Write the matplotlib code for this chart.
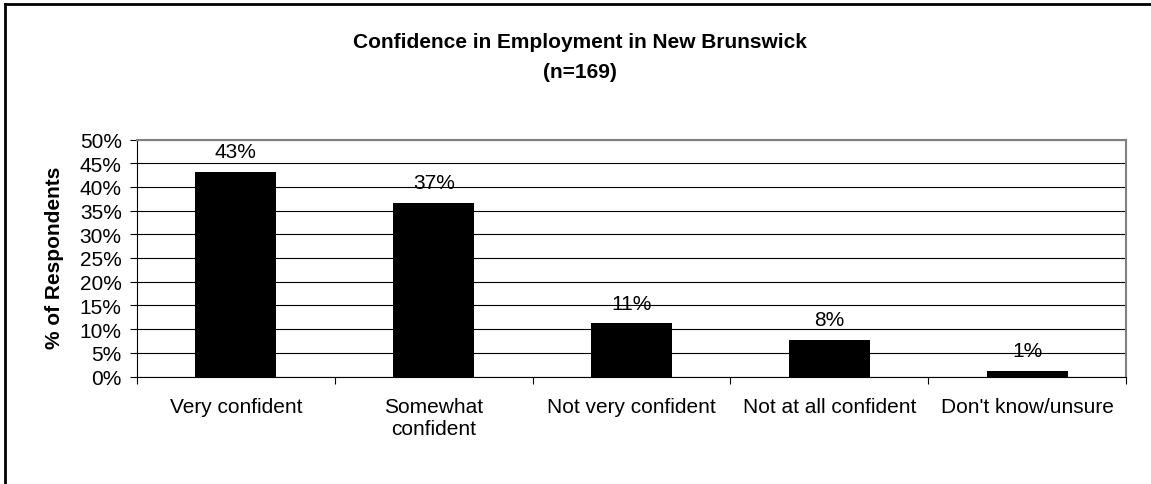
import matplotlib
matplotlib.use("Agg")
import matplotlib.pyplot as plt
from matplotlib.lines import Line2D
import numpy as np

# data
categories = ["Very confident", "Somewhat\nconfident", "Not very confident",
              "Not at all confident", "Don't know/unsure"]
values = [43.2, 36.7, 11.2, 7.7, 1.2]
labels = ["43%", "37%", "11%", "8%", "1%"]
yticks = [0, 5, 10, 15, 20, 25, 30, 35, 40, 45, 50]

plt.rcParams['font.family'] = ['Liberation Sans', 'DejaVu Sans']
FS = 15

fig = plt.figure(figsize=(11.51, 4.85), dpi=100)
ax = fig.add_axes([137/1151, 1-377.5/485, (1126-137)/1151, (377.5-140.5)/485])

x = np.arange(len(categories))
ax.bar(x, values, width=0.41, color="black", zorder=3)

#value labels above bars
for xi, v, lab in zip(x, values, labels):
    ax.annotate(lab, (xi, v), xytext=(0, 10.5), textcoords="offset points",
                ha="center", va="baseline", fontsize=FS)

ax.set_xlim(-0.5, len(categories)-0.5)
ax.set_ylim(0, 50)
ax.set_yticks(yticks)
ax.set_yticklabels([f"{t}%" for t in yticks], fontsize=FS)
ax.yaxis.grid(True, color="black", lw=0.8, zorder=0)

ax.set_xticks(x)
ax.set_xticklabels(categories, fontsize=FS)
ax.set_xticks(np.arange(len(categories)+1)-0.5, minor=True)
ax.tick_params(axis="x", which="major", length=0, pad=15)
ax.tick_params(axis="x", which="minor", length=5, width=0.8, color="black")
ax.tick_params(axis="y", length=5, width=0.8, pad=6)

for s in ["top", "right"]:
    ax.spines[s].set_color("#808080")
    ax.spines[s].set_linewidth(1.5)
for s in ["left", "bottom"]:
    ax.spines[s].set_color("black")
    ax.spines[s].set_linewidth(0.8)

ax.set_ylabel("% of Respondents", fontsize=FS, fontweight="bold")
ax.yaxis.set_label_coords(55/1151, 1-258/485, transform=fig.transFigure)
ax.yaxis.label.set_va("center")

fig.text(580/1151, 1-43/485, "Confidence in Employment in New Brunswick",
         ha="center", va="center", fontsize=FS, fontweight="bold")
fig.text(580/1151, 1-73/485, "(n=169)",
         ha="center", va="center", fontsize=FS, fontweight="bold")

#outer chart frame, only top and left visible in the crop
fig.add_artist(Line2D([4.5/1151, 4.5/1151], [0, 1-5/485], color="black", lw=2))
fig.add_artist(Line2D([4.5/1151, 1], [1-5/485, 1-5/485], color="black", lw=2))

fig.savefig("out.png", dpi=100)
